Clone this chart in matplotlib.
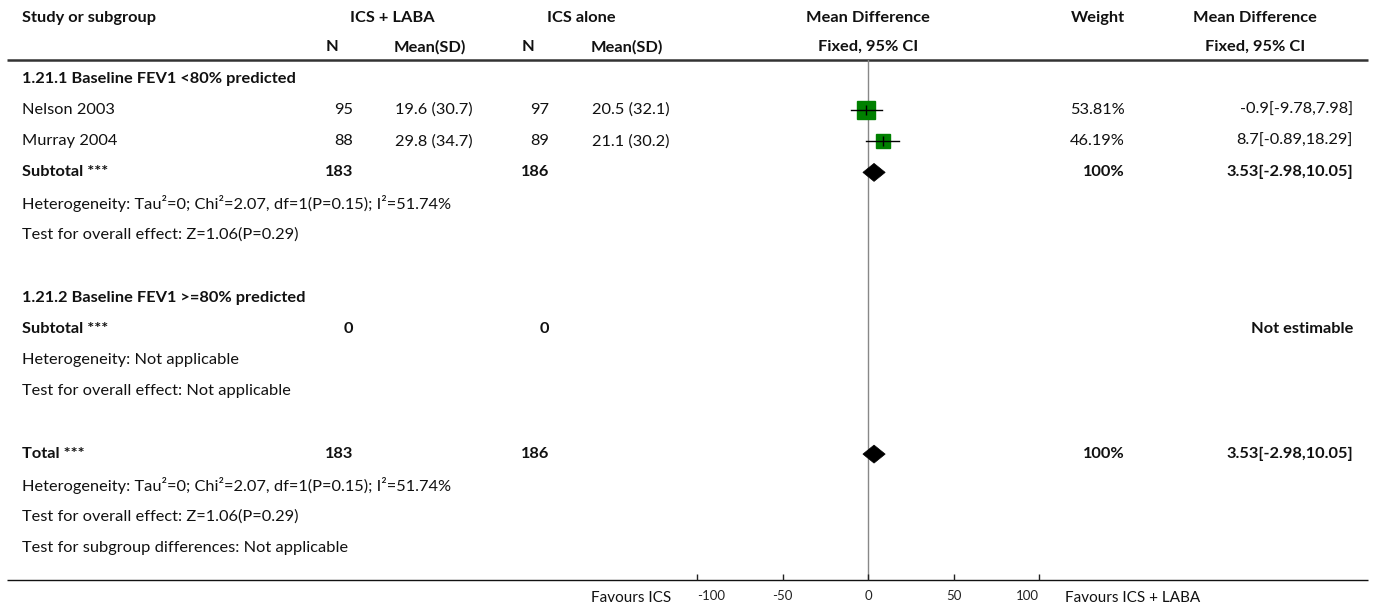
import matplotlib
matplotlib.use("Agg")
import matplotlib.pyplot as plt
from matplotlib.patches import Polygon

plt.rcParams['font.family'] = ['Lato', 'DejaVu Sans']

# ---- data ----
studies = ["Nelson 2003", "Murray 2004"]
n_trt = [95, 88]
mean_trt = [19.6, 29.8]
sd_trt = [30.7, 34.7]
n_ctl = [97, 89]
mean_ctl = [20.5, 21.1]
sd_ctl = [32.1, 30.2]
md = [-0.9, 8.7]
md_lo = [-9.78, -0.89]
md_hi = [7.98, 18.29]
weights = [53.81, 46.19]

sub_md, sub_lo, sub_hi = 3.53, -2.98, 10.05
sub1_n = [183, 186]
sub2_n = [0, 0]
tot_n = [183, 186]
het_text = "Heterogeneity: Tau\u00b2=0; Chi\u00b2=2.07, df=1(P=0.15); I\u00b2=51.74%"
effect_text = "Test for overall effect: Z=1.06(P=0.29)"
ticks = [-100, -50, 0, 50, 100]

# ---- layout (pixels) ----
W, H = 1373, 612
TXT = '#111111'
FS = 11.8

fig = plt.figure(figsize=(W / 100, H / 100), dpi=100)
canvas = fig.add_axes([0, 0, 1, 1])
canvas.set_xlim(0, W)
canvas.set_ylim(H, 0)
canvas.axis('off')

X_LO, X_HI = 697, 1039
Y_TOP, Y_BOT = 60, 580
fax = fig.add_axes([X_LO / W, 1 - Y_BOT / H, (X_HI - X_LO) / W, (Y_BOT - Y_TOP) / H])
fax.set_xlim(-100, 100)
fax.set_ylim(Y_BOT, Y_TOP)
fax.patch.set_alpha(0)
for s in fax.spines.values():
    s.set_visible(False)
fax.set_yticks([])
fax.set_xticks(ticks)
fax.set_xticklabels([f"{t:g}" for t in ticks])
fax.tick_params(axis='x', direction='in', length=4, width=1, pad=7,
                labelsize=9.5, colors='#222222')
labels = fax.get_xticklabels()
labels[0].set_ha('left')
labels[-1].set_ha('right')
fax.axvline(0, color='#888888', lw=1, zorder=1)


def row_y(i):
    return 78.5 + 31.3 * i


def t(x, y, s, ha='left', bold=False, size=FS):
    canvas.text(x, y, s, ha=ha, va='center', fontsize=size, color=TXT,
                fontweight='bold' if bold else 'normal')


# header
HY1, HY2 = 18, 47
t(22, HY1, "Study or subgroup", bold=True)
t(392, HY1, "ICS + LABA", ha='center', bold=True)
t(581, HY1, "ICS alone", ha='center', bold=True)
t(868, HY1, "Mean Difference", ha='center', bold=True)
t(1125, HY1, "Weight", ha='right', bold=True)
t(1255, HY1, "Mean Difference", ha='center', bold=True)
t(332, HY2, "N", ha='center', bold=True)
t(430, HY2, "Mean(SD)", ha='center', bold=True)
t(528, HY2, "N", ha='center', bold=True)
t(627, HY2, "Mean(SD)", ha='center', bold=True)
t(868, HY2, "Fixed, 95% CI", ha='center', bold=True)
t(1255, HY2, "Fixed, 95% CI", ha='center', bold=True)

canvas.plot([7, 1368], [Y_TOP, Y_TOP], color='#333333', lw=1.8, solid_capstyle='butt')
canvas.plot([7, 1368], [Y_BOT, Y_BOT], color='#111111', lw=1.0, solid_capstyle='butt')


def diamond(y, c, lo, hi, half_h=9):
    fax.add_patch(Polygon([[lo, y], [c, y - half_h], [hi, y], [c, y + half_h]],
                          closed=True, facecolor='black', edgecolor='black', lw=0.5, zorder=4))


def summary_row(i, label, ns, c, lo, hi, wsum):
    y = row_y(i)
    t(22, y, label, bold=True)
    t(353, y, f"{ns[0]}", ha='right', bold=True)
    t(549, y, f"{ns[1]}", ha='right', bold=True)
    diamond(y, c, lo, hi)
    t(1125, y, f"{wsum:g}%", ha='right', bold=True)
    t(1353, y, f"{c:g}[{lo:g},{hi:g}]", ha='right', bold=True)


# subgroup 1
t(22, row_y(0), "1.21.1 Baseline FEV1 <80% predicted", bold=True)
for k, name in enumerate(studies):
    y = row_y(1 + k)
    t(22, y, name)
    t(353, y, f"{n_trt[k]}", ha='right')
    t(434, y, f"{mean_trt[k]:g} ({sd_trt[k]:g})", ha='center')
    t(549, y, f"{n_ctl[k]}", ha='right')
    t(631, y, f"{mean_ctl[k]:g} ({sd_ctl[k]:g})", ha='center')
    fax.plot([md_lo[k], md_hi[k]], [y, y], color='black', lw=1, zorder=5)
    fax.plot(md[k], y, marker='s', ms=0.23 * weights[k], color='#008000',
             mec='#008000', zorder=4)
    fax.plot(md[k], y, marker='|', ms=7, color='black', mew=1, zorder=6)
    t(1125, y, f"{weights[k]:g}%", ha='right')
    t(1353, y, f"{md[k]:g}[{md_lo[k]:g},{md_hi[k]:g}]", ha='right')

summary_row(3, "Subtotal ***", sub1_n, sub_md, sub_lo, sub_hi, sum(weights))
t(22, row_y(4), het_text)
t(22, row_y(5), effect_text)

# subgroup 2
t(22, row_y(7), "1.21.2 Baseline FEV1 >=80% predicted", bold=True)
t(22, row_y(8), "Subtotal ***", bold=True)
t(353, row_y(8), f"{sub2_n[0]}", ha='right', bold=True)
t(549, row_y(8), f"{sub2_n[1]}", ha='right', bold=True)
t(1353, row_y(8), "Not estimable", ha='right', bold=True)
t(22, row_y(9), "Heterogeneity: Not applicable")
t(22, row_y(10), "Test for overall effect: Not applicable")

# overall
summary_row(12, "Total ***", tot_n, sub_md, sub_lo, sub_hi, sum(weights))
t(22, row_y(13), het_text)
t(22, row_y(14), effect_text)
t(22, row_y(15), "Test for subgroup differences: Not applicable")

# favours labels
t(671, 598, "Favours ICS", ha='right', size=11)
t(1065, 598, "Favours ICS + LABA", ha='left', size=11)

fig.savefig("out.png", dpi=100)
